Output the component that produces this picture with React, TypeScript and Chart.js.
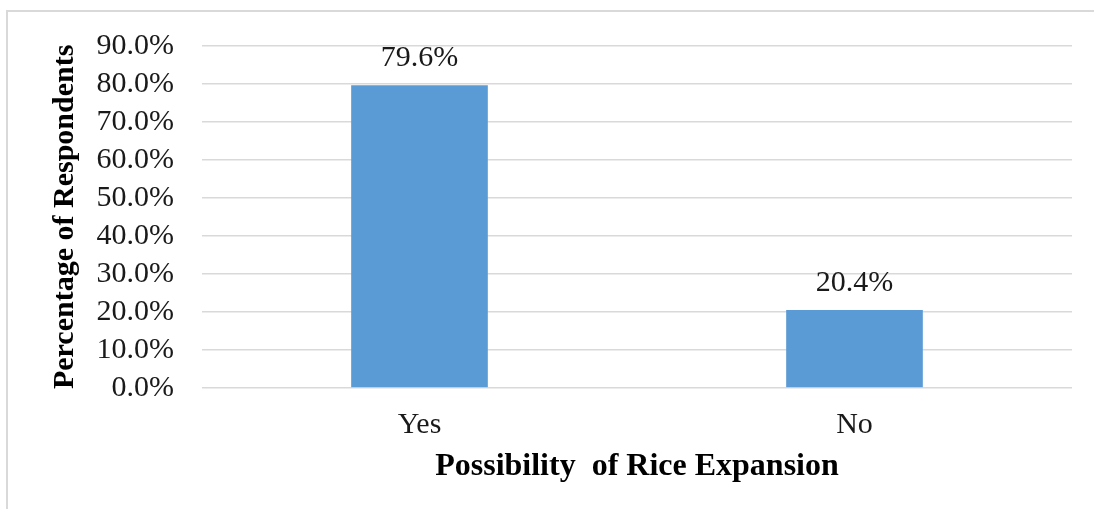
import { useEffect, useRef } from "react";
import { Chart, registerables } from "chart.js";

Chart.register(...registerables);

const categories = ["Yes", "No"];
const percentages = [79.6, 20.4];
const yMin = 0;
const yMax = 90;
const yStep = 10;

const SERIF = "'Liberation Serif', 'Times New Roman', serif";
const TEXT = "#1a1a1a";
const GRID = "#d9d9d9";
const BAR = "#5B9BD5";

// Writes the percentage above each bar
const valueLabels = {
  id: "valueLabels",
  afterDatasetsDraw(chart: any) {
    const { ctx } = chart;
    const meta = chart.getDatasetMeta(0);
    ctx.save();
    ctx.font = `30px ${SERIF}`;
    ctx.fillStyle = TEXT;
    ctx.textAlign = "center";
    ctx.textBaseline = "alphabetic";
    meta.data.forEach((bar: any, i: number) => {
      ctx.fillText(`${percentages[i].toFixed(1)}%`, bar.x, bar.y - 19);
    });
    ctx.restore();
  },
};

export default function App() {
  const canvasRef = useRef<HTMLCanvasElement>(null);

  useEffect(() => {
    if (!canvasRef.current) return;
    const chart = new Chart(canvasRef.current, {
      type: "bar",
      data: {
        labels: categories,
        datasets: [
          {
            data: percentages,
            backgroundColor: BAR,
            borderWidth: 0,
            barThickness: 136,
          },
        ],
      },
      options: {
        animation: false,
        responsive: false,
        maintainAspectRatio: false,
        layout: { padding: { top: 40.5, right: 22, bottom: 0, left: 0 } },
        plugins: {
          legend: { display: false },
          tooltip: { enabled: false },
        },
        scales: {
          x: {
            grid: { display: false, drawTicks: false },
            border: { display: false },
            ticks: {
              color: TEXT,
              font: { family: SERIF, size: 30 },
              padding: 19,
            },
            title: {
              display: true,
              text: "Possibility  of Rice Expansion",
              color: "#000",
              font: { family: SERIF, size: 32, weight: "bold" },
              padding: { top: 0, bottom: 23 },
            },
            afterFit: (scale: any) => {
              scale.height = 121.3;
            },
          },
          y: {
            min: yMin,
            max: yMax,
            grid: { color: GRID, lineWidth: 1.5, drawTicks: false },
            border: { display: false },
            ticks: {
              stepSize: yStep,
              autoSkip: false,
              color: TEXT,
              font: { family: SERIF, size: 30 },
              padding: 28,
              callback: (v: any) => `${Number(v).toFixed(1)}%`,
            },
            title: {
              display: true,
              text: "Percentage of Respondents",
              color: "#000",
              font: { family: SERIF, size: 30, weight: "bold" },
              padding: { top: 47, bottom: 0 },
            },
            afterFit: (scale: any) => {
              scale.width = 202;
            },
          },
        },
      },
      plugins: [valueLabels],
    });
    return () => chart.destroy();
  }, []);

  return (
    <div style={{ position: "absolute", left: 0, top: 0, width: 1094, height: 509, overflow: "hidden", background: "#fff" }}>
      <div
        style={{
          position: "absolute",
          left: 6,
          top: 10,
          width: 1200,
          height: 600,
          border: "2px solid #d9d9d9",
          boxSizing: "border-box",
        }}
      />
      <canvas ref={canvasRef} width={1094} height={509} style={{ position: "absolute", left: 0, top: 0, display: "block" }} />
    </div>
  );
}
